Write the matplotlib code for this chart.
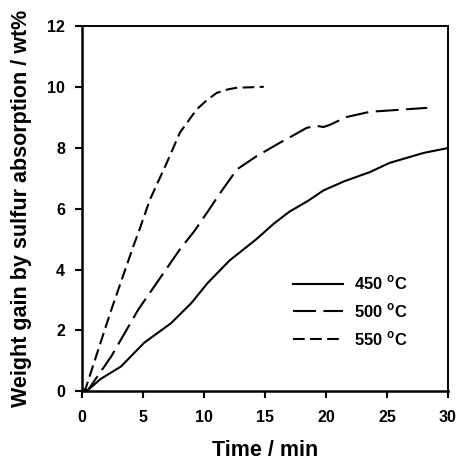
import numpy as np
import matplotlib.pyplot as plt

plt.rcParams['font.family'] = ['Liberation Sans', 'DejaVu Sans']
plt.rcParams['font.weight'] = 'bold'
plt.rcParams['mathtext.default'] = 'bf'

# sulfur uptake curves
t450 = [0, 0.5, 1.5, 3.2, 5.1, 7.3, 8.96, 10.3, 12.1, 14.3, 15.7, 17.0, 18.5, 19.8, 21.5, 23.6, 25.2, 28.0, 30.0]
w450 = [0, 0.05, 0.4, 0.82, 1.6, 2.24, 2.9, 3.56, 4.3, 5.0, 5.5, 5.9, 6.25, 6.6, 6.9, 7.2, 7.5, 7.83, 7.99]

t500 = [0, 0.5, 2.4, 4.6, 7.05, 8.0, 9.2, 10.3, 11.3, 12.1, 12.7, 14.3, 16.2, 17.3, 18.4, 19.2, 19.8, 20.3,
        21.7, 23.6, 25.8, 28.3]
w500 = [0, 0.05, 1.15, 2.68, 4.1, 4.65, 5.26, 5.9, 6.5, 6.95, 7.29, 7.72, 8.16, 8.4, 8.65, 8.72, 8.68, 8.75,
        9.01, 9.18, 9.24, 9.31]

t550 = [0, 0.3, 2.4, 4.2, 4.7, 5.57, 6.94, 8.03, 9.4, 10.2, 11.04, 12.0, 12.7, 14.9]
w550 = [0, 0.1, 2.68, 4.76, 5.3, 6.3, 7.5, 8.5, 9.26, 9.55, 9.8, 9.92, 9.97, 10.0]

labels = ['450 $^\\mathregular{o}$C', '500 $^\\mathregular{o}$C', '550 $^\\mathregular{o}$C']

fig = plt.figure(figsize=(4.59, 4.71), dpi=100)
ax = fig.add_axes([0.1787, 0.169, 0.7973, 0.776])

ax.plot(t450, w450, color='black', lw=1.5, label=labels[0])
ax.plot(t500, w500, color='black', lw=1.5, dashes=(11, 3.6), label=labels[1])
ax.plot(t550, w550, color='black', lw=1.5, dashes=(5.6, 2.6), label=labels[2])

ax.set_xlim(0, 30)
ax.set_ylim(0, 12)
ax.set_xticks(np.arange(0, 31, 5))
ax.set_yticks(np.arange(0, 13, 2))
ax.tick_params(direction='out', length=4.8, width=1.5, labelsize=11.5, top=False, right=False)
ax.tick_params(axis='x', pad=8.5)
ax.tick_params(axis='y', pad=7.5)
for lab in ax.get_xticklabels() + ax.get_yticklabels():
    lab.set_fontweight('bold')
ax.spines['left'].set_linewidth(1.8)
ax.spines['bottom'].set_linewidth(1.8)
ax.spines['top'].set_linewidth(1.4)
ax.spines['right'].set_linewidth(1.4)

ax.set_xlabel('Time / min', fontsize=15.5, fontweight='bold', labelpad=11)
ax.set_ylabel('Weight gain by sulfur absorption / wt%', fontsize=15.5, fontweight='bold', labelpad=11)

leg = ax.legend(loc='lower right', bbox_to_anchor=(0.908, 0.1), frameon=False,
                prop={'size': 12, 'weight': 'bold'}, handlelength=3.0, labelspacing=0.55,
                handletextpad=0.65, borderaxespad=0)

fig.savefig('out.png', dpi=100)
